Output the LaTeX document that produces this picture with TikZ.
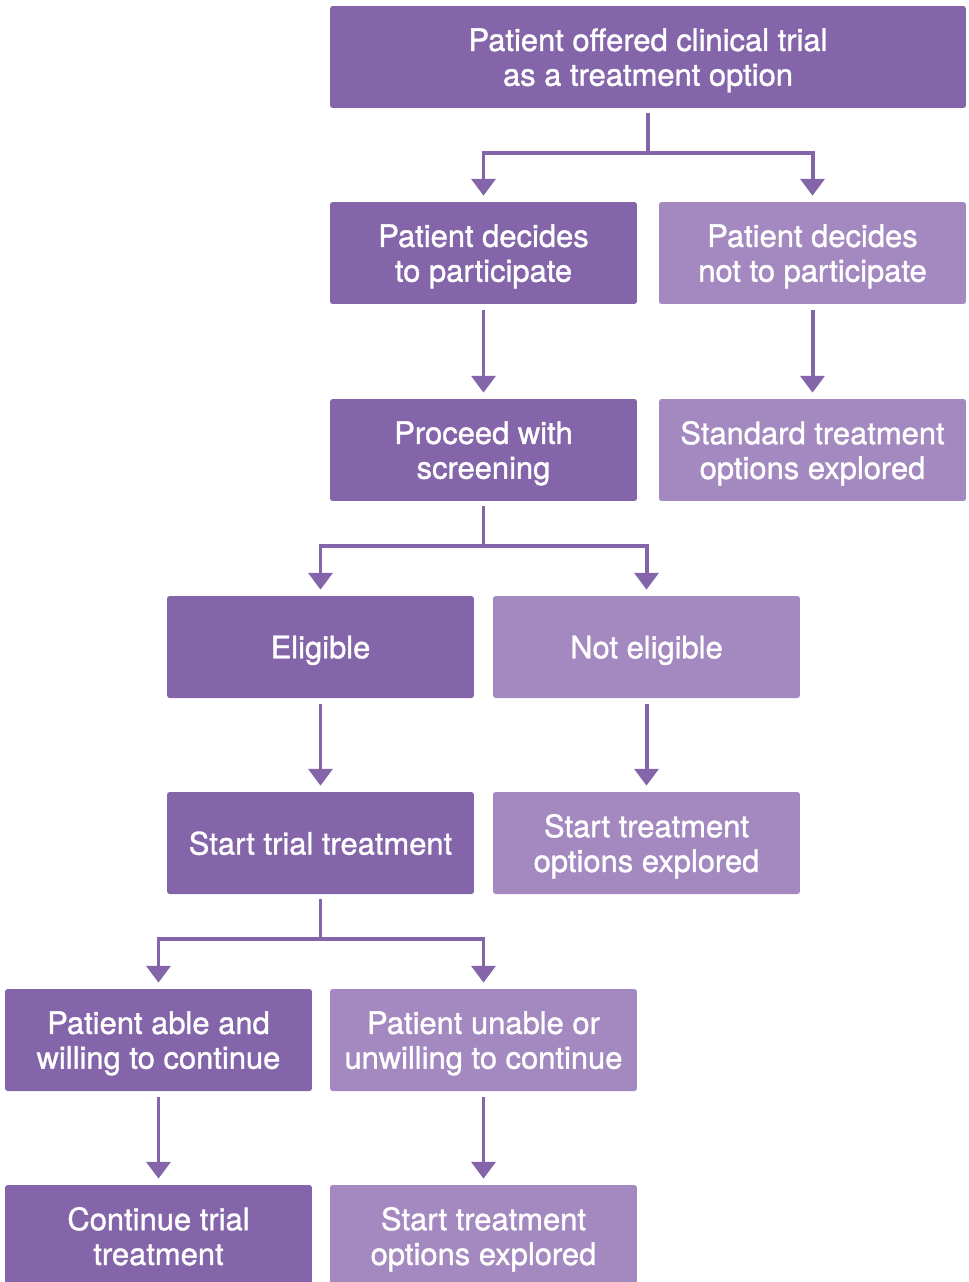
\documentclass[tikz,border=0pt]{standalone}
\usepackage{fontspec}
\setmainfont{TeX Gyre Heros}
\newfontfamily\boxfont[RawFeature={embolden=1.2}]{TeX Gyre Heros}
\usepackage{tikz}
\usetikzlibrary{arrows.meta, positioning}
\definecolor{trialdark}{RGB}{133,101,170}
\definecolor{triallight}{RGB}{163,137,192}

\begin{document}
\begin{tikzpicture}[
  x=0.02cm, y=-0.02cm,
  font=\boxfont\fontsize{17.6}{19.8}\selectfont,
  box/.style={rectangle, rounded corners=1.5pt, fill=trialdark, text=white,
              minimum width=6.14cm, minimum height=2.04cm, align=center, inner sep=0pt,
              text depth=0pt},
  boxno/.style={box, fill=triallight},
  arr/.style={-{Triangle[width=13.6pt, length=9.6pt]}, trialdark, line width=2.27pt,
              shorten <=0.12cm, shorten >=0.12cm},
  split/.style={arr, shorten <=0pt}]

  \useasboundingbox (0,0) rectangle (968,1282);

  % first choice
  \node[box, minimum width=12.72cm] (offer) at (648,57) {Patient offered clinical trial\\as a treatment option};
  \node[box] (yes) at (483.5,253) {Patient decides\\to participate};
  \node[boxno] (no) at (812.5,253) {Patient decides\\not to participate};
  \node[box] (screen) at (483.5,450) {Proceed with\\screening};
  \node[boxno] (standard) at (812.5,450) {Standard treatment\\options explored};

  % screening
  \node[box] (elig) at (320.5,647) {Eligible};
  \node[boxno] (notelig) at (646.5,647) {Not eligible};
  \node[box] (start) at (320.5,843) {Start trial treatment};
  \node[boxno] (other) at (646.5,843) {Start treatment\\options explored};

  % during treatment
  \node[box] (able) at (158.5,1040) {Patient able and\\willing to continue};
  \node[boxno] (unable) at (483.5,1040) {Patient unable or\\unwilling to continue};
  \node[box] (cont) at (158.5,1236) {Continue trial\\treatment};
  \node[boxno] (stop) at (483.5,1236) {Start treatment\\options explored};

  \draw[split] ([yshift=-0.1cm]offer.south) -- ++(0,40) -| (yes.north);
  \draw[split] ([yshift=-0.1cm]offer.south) -- ++(0,40) -| (no.north);
  \draw[arr] (yes) -- (screen);
  \draw[arr] (no) -- (standard);

  \draw[split] ([yshift=-0.1cm]screen.south) -- ++(0,40) -| (elig.north);
  \draw[split] ([yshift=-0.1cm]screen.south) -- ++(0,40) -| (notelig.north);
  \draw[arr] (elig) -- (start);
  \draw[arr] (notelig) -- (other);

  \draw[split] ([yshift=-0.1cm]start.south) -- ++(0,40) -| (able.north);
  \draw[split] ([yshift=-0.1cm]start.south) -- ++(0,40) -| (unable.north);
  \draw[arr] (able) -- (cont);
  \draw[arr] (unable) -- (stop);
\end{tikzpicture}
\end{document}
